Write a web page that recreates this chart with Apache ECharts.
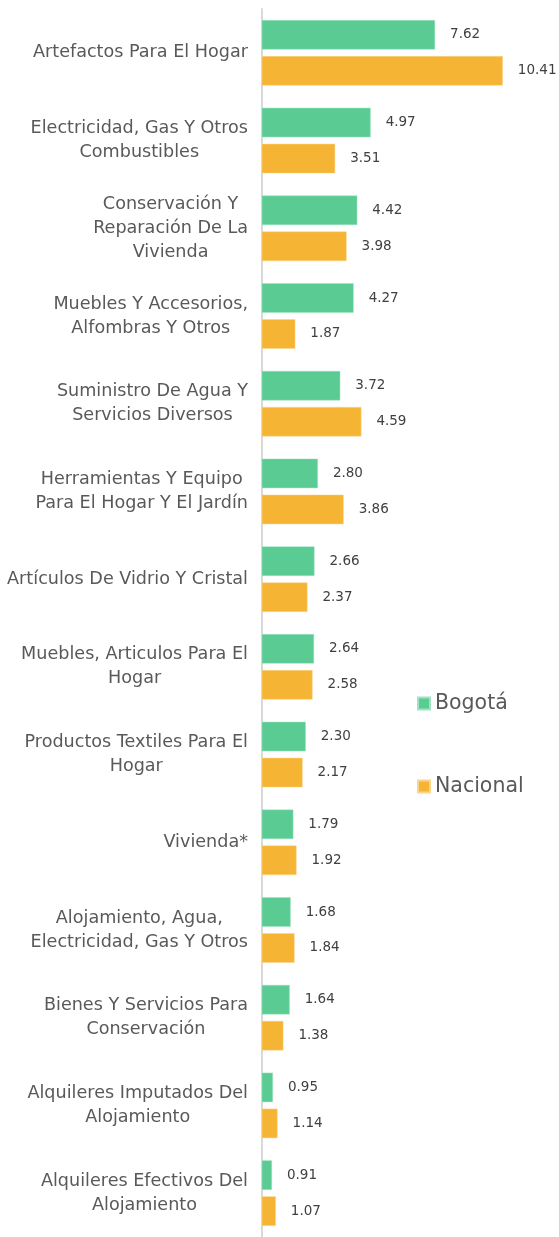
<!DOCTYPE html>
<html>
<head>
<meta charset="utf-8">
<script src="https://cdn.jsdelivr.net/npm/echarts@6/dist/echarts.min.js"></script>
<style>
  html, body { margin: 0; padding: 0; background: #fff; }
  #chart { width: 559px; height: 1237px; }
</style>
</head>
<body>
<div id="chart"></div>
<script>
  // categorias (de arriba hacia abajo)
  const categorias = [
    'Artefactos Para El Hogar',
    'Electricidad, Gas Y Otros\nCombustibles',
    'Conservación Y\nReparación De La\nVivienda',
    'Muebles Y Accesorios,\nAlfombras Y Otros',
    'Suministro De Agua Y\nServicios Diversos',
    'Herramientas Y Equipo\nPara El Hogar Y El Jardín',
    'Artículos De Vidrio Y Cristal',
    'Muebles, Articulos Para El\nHogar',
    'Productos Textiles Para El\nHogar',
    'Vivienda*',
    'Alojamiento, Agua,\nElectricidad, Gas Y Otros',
    'Bienes Y Servicios Para\nConservación',
    'Alquileres Imputados Del\nAlojamiento',
    'Alquileres Efectivos Del\nAlojamiento'
  ];
  const bogota = [7.62, 4.97, 4.42, 4.27, 3.72, 2.80, 2.66, 2.64, 2.30, 1.79, 1.68, 1.64, 0.95, 0.91];
  const nacional = [10.41, 3.51, 3.98, 1.87, 4.59, 3.86, 2.37, 2.58, 2.17, 1.92, 1.84, 1.38, 1.14, 1.07];

  const fuente = 'DejaVu Sans';
  const etiqueta = {
    show: true,
    position: 'right',
    distance: 15,
    color: '#404040',
    fontSize: 13.5,
    fontFamily: fuente,
    formatter: p => p.value.toFixed(2)
  };

  const chart = echarts.init(document.getElementById('chart'));
  chart.setOption({
    animation: false,
    // el eje de valores arranca en 0.5 (como en el original)
    grid: { left: 262, right: 17.5, top: 9, height: 1234 },
    legend: {
      orient: 'vertical',
      left: 412,
      top: 688,
      itemGap: 62,
      itemWidth: 12,
      itemHeight: 12,
      icon: 'rect',
      textStyle: { color: '#595959', fontSize: 20.5, fontFamily: fuente },
      data: ['Bogotá', 'Nacional']
    },
    xAxis: {
      type: 'value',
      min: 0.5,
      max: 12,
      show: false
    },
    yAxis: {
      type: 'category',
      inverse: true,
      data: categorias,
      axisLine: { lineStyle: { color: '#d9d9d9', width: 2 } },
      axisTick: { show: false },
      axisLabel: {
        margin: 14,
        align: 'right',
        // cada linea centrada dentro del bloque
        formatter: v => v.split('\n').map(s => '{c|' + s + '}').join('\n'),
        rich: {
          c: {
            align: 'center',
            color: '#595959',
            fontSize: 17.6,
            lineHeight: 24,
            fontFamily: fuente
          }
        }
      }
    },
    series: [
      {
        name: 'Bogotá',
        type: 'bar',
        data: bogota,
        barWidth: 29.5,
        barGap: '22%',
        itemStyle: { color: '#5BCB94', borderColor: '#9fe3c2', borderWidth: 0.5 },
        label: etiqueta
      },
      {
        name: 'Nacional',
        type: 'bar',
        data: nacional,
        barWidth: 29.5,
        itemStyle: { color: '#F5B433', borderColor: '#f9d68e', borderWidth: 0.5 },
        label: etiqueta
      }
    ]
  });
</script>
</body>
</html>
